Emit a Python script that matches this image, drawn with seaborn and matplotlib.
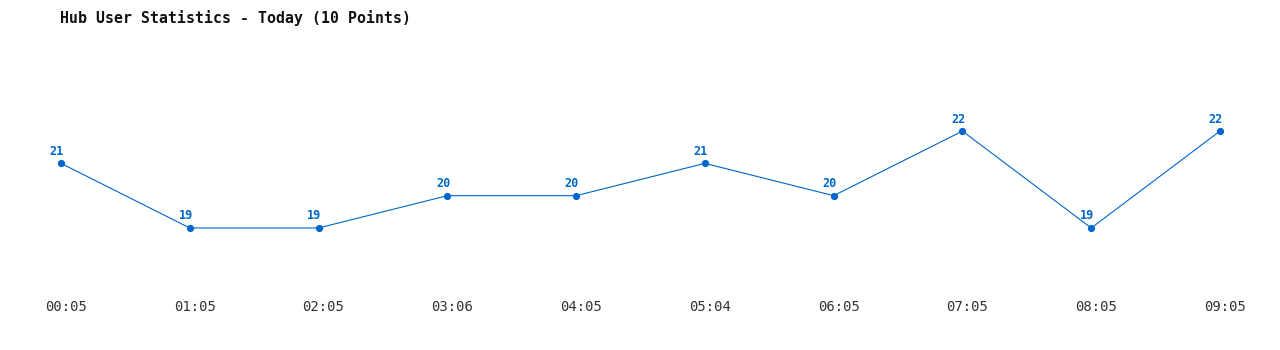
import matplotlib
matplotlib.use("Agg")
import matplotlib.pyplot as plt
import matplotlib.transforms as mtransforms
import seaborn as sns
import pandas as pd

times = ["00:05", "01:05", "02:05", "03:06", "04:05", "05:04", "06:05", "07:05", "08:05", "09:05"]
users = [21, 19, 19, 20, 20, 21, 20, 22, 19, 22]
title = "Hub User Statistics - Today (10 Points)"

sns.set_theme(style="white")
plt.rcParams['font.family'] = ['DejaVu Sans Mono', 'DejaVu Sans']

df = pd.DataFrame({"idx": range(len(times)), "users": users})
color = "#0066cc"

fig = plt.figure(figsize=(12.8, 3.5), dpi=100)
ax = fig.add_axes([61/1280, 60/350, (1220-61)/1280, 230/350])
sns.lineplot(data=df, x="idx", y="users", ax=ax, color=color, linewidth=0.8,
             marker="o", markersize=5.2, markeredgewidth=0, markerfacecolor=color)
for ln in ax.get_lines():
    ln.set_clip_on(False)
for i, v in enumerate(users):
    ax.annotate(str(v), (i, v), xytext=(-3, 4),
                textcoords="offset points", ha="center", va="bottom",
                fontsize=8.5, fontweight="bold", color=color, annotation_clip=False)
ax.set_xlim(0, 9)
ax.set_ylim(17.08, 24.2)
ax.set_xticks(range(len(times)))
ax.set_xticklabels(times, fontsize=10, color="#333333")
ax.tick_params(axis="x", length=0, pad=7.5)
offset = mtransforms.ScaledTranslation(5/100, 0, fig.dpi_scale_trans)
for lbl in ax.get_xticklabels():
    lbl.set_transform(lbl.get_transform() + offset)
ax.set_yticks([])
ax.set_xlabel("")
ax.set_ylabel("")
for s in ax.spines.values():
    s.set_visible(False)
fig.text(60/1280, 1 - 18/350, title, fontsize=10.7, fontweight="bold", color="#111111",
         ha="left", va="center")
fig.savefig("out.png", dpi=100)
